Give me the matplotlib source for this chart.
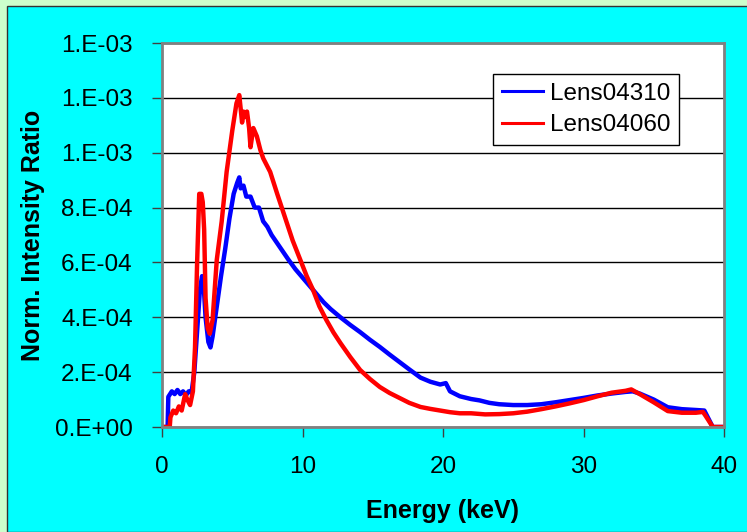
import matplotlib.pyplot as plt
from matplotlib.patches import Rectangle

# Data (energy in keV, intensity ratio in units of 1e-4)
blue_x = [0.0, 0.4, 0.45, 0.7, 0.9, 1.1, 1.3, 1.5, 1.7, 1.9, 2.1, 2.3, 2.5, 2.7, 2.85, 2.95,
          3.1, 3.3, 3.45, 3.6, 3.9, 4.2, 4.5, 4.8, 5.1, 5.35, 5.5, 5.6, 5.8, 6.0, 6.3, 6.6,
          6.9, 7.2, 7.5, 7.8, 8.2, 8.6, 9.0, 9.5, 10.0, 10.5, 11.0, 11.5, 12.0, 12.7, 13.4,
          14.1, 14.8, 15.5, 16.2, 16.9, 17.6, 18.4, 19.1, 19.8, 20.2, 20.5, 21.2, 22.0, 22.6,
          23.3, 24.0, 25.0, 26.0, 27.0, 28.0, 29.0, 30.0, 31.0, 32.0, 33.0, 33.5, 34.0, 35.0,
          36.0, 37.0, 38.0, 38.6, 39.0, 39.2, 40.0]
blue_y = [0, 0, 1.1, 1.3, 1.2, 1.35, 1.2, 1.3, 1.15, 1.3, 1.25, 2.0, 3.5, 5.0, 5.5, 5.3,
          4.0, 3.1, 2.9, 3.3, 4.4, 5.5, 6.5, 7.6, 8.5, 8.9, 9.1, 8.7, 8.8, 8.4, 8.4, 8.0,
          8.0, 7.5, 7.3, 7.0, 6.7, 6.4, 6.1, 5.75, 5.45, 5.15, 4.85, 4.55, 4.3, 4.0, 3.72,
          3.46, 3.18, 2.92, 2.64, 2.37, 2.1, 1.8, 1.65, 1.55, 1.6, 1.3, 1.12, 1.02, 0.97,
          0.88, 0.83, 0.8, 0.8, 0.83, 0.9, 0.98, 1.06, 1.15, 1.22, 1.28, 1.3, 1.22, 1.0,
          0.72, 0.65, 0.62, 0.6, 0.2, 0, 0]

red_x = [0.0, 0.55, 0.6, 0.8, 1.0, 1.2, 1.4, 1.65, 1.8, 2.0, 2.2, 2.35, 2.5, 2.65, 2.8, 2.9,
         3.0, 3.1, 3.25, 3.4, 3.6, 3.9, 4.25, 4.6, 5.0, 5.3, 5.5, 5.6, 5.7, 5.8, 5.9, 6.05,
         6.2, 6.3, 6.5, 6.75, 7.0, 7.2, 7.7, 8.2, 8.75, 9.3, 9.8, 10.3, 10.75, 11.2, 11.7,
         12.2, 12.7, 13.4, 14.1, 14.8, 15.5, 16.2, 16.9, 17.6, 18.4, 19.1, 19.8, 20.5, 21.2,
         22.0, 23.0, 24.0, 25.0, 26.0, 27.0, 28.0, 29.0, 30.0, 31.0, 32.0, 33.0, 33.4, 34.0,
         35.0, 36.0, 37.0, 38.0, 38.5, 38.7, 39.2, 40.0]
red_y = [0, 0, 0.35, 0.6, 0.5, 0.75, 0.6, 1.2, 1.0, 0.8, 1.3, 2.9, 6.0, 8.5, 8.5, 8.2,
         7.2, 4.7, 3.6, 3.4, 3.9, 6.1, 7.5, 9.3, 10.8, 11.8, 12.1, 11.6, 11.1, 11.5, 11.3, 11.5,
         10.9, 10.2, 10.9, 10.6, 10.1, 9.8, 9.3, 8.5, 7.65, 6.8, 6.15, 5.5, 5.0, 4.4, 3.9,
         3.45, 3.06, 2.55, 2.08, 1.75, 1.46, 1.24, 1.06, 0.88, 0.73, 0.66, 0.6, 0.54, 0.5,
         0.5, 0.46, 0.47, 0.5, 0.56, 0.65, 0.75, 0.86, 0.98, 1.12, 1.25, 1.32, 1.37, 1.2,
         0.9, 0.58, 0.52, 0.52, 0.55, 0.4, 0, 0]

series_names = ['Lens04310', 'Lens04060']
y_ticks = [0, 2e-4, 4e-4, 6e-4, 8e-4, 10e-4, 12e-4, 14e-4]
y_tick_labels = ['0.E+00', '2.E-04', '4.E-04', '6.E-04', '8.E-04', '1.E-03', '1.E-03', '1.E-03']
x_ticks = [0, 10, 20, 30, 40]

plt.rcParams['font.family'] = ['Liberation Sans', 'DejaVu Sans']

fig = plt.figure(figsize=(7.47, 5.32), dpi=100, facecolor='#CCFFCC')
fig.patches.append(Rectangle((7 / 747, 0), 1, 1 - 6 / 532, transform=fig.transFigure,
                             facecolor='#00FFFF', edgecolor='#333333', lw=1, zorder=-5))

ax = fig.add_axes([162 / 747, 1 - 427 / 532, 562 / 747, 384 / 532])
ax.set_facecolor('white')

ax.plot(blue_x, [v * 1e-4 for v in blue_y], color='#0000FF', lw=3.2, label=series_names[0])
ax.plot(red_x, [v * 1e-4 for v in red_y], color='#FF0000', lw=3.2, label=series_names[1])

ax.set_xlim(0, 40)
ax.set_ylim(0, 14e-4)
ax.set_xticks(x_ticks)
ax.set_yticks(y_ticks)
ax.set_yticklabels(y_tick_labels)
ax.yaxis.grid(True, color='black', lw=1.0)
ax.set_axisbelow(True)

for s in ax.spines.values():
    s.set_color('#808080')
    s.set_linewidth(2)

ax.tick_params(axis='both', direction='out', length=7, width=1, color='#404040',
               labelsize=17.5)
ax.tick_params(axis='x', pad=14)
ax.tick_params(axis='y', pad=14)

ax.set_xlabel('Energy (keV)', fontsize=18, fontweight='bold', labelpad=15)
ax.set_ylabel('Norm. Intensity Ratio', fontsize=18, fontweight='bold', labelpad=7)

leg = ax.legend(loc='upper left', bbox_to_anchor=(0.589, 0.919), borderaxespad=0,
                fontsize=17.5, handlelength=1.7, handletextpad=0.3, labelspacing=0.4,
                borderpad=0.35, fancybox=False, framealpha=1, edgecolor='black')
leg.get_frame().set_linewidth(1)
for h in leg.get_lines():
    h.set_linewidth(2.2)

fig.savefig('out.png', dpi=100, facecolor=fig.get_facecolor())
